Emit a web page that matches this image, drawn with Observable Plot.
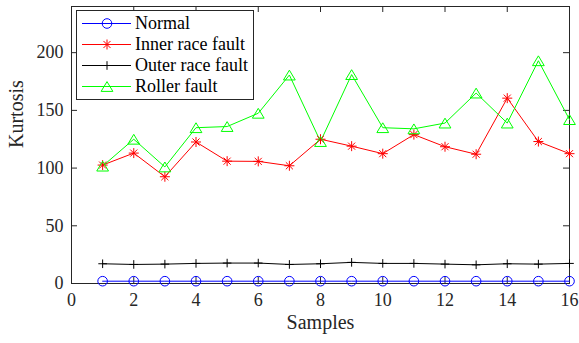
<!DOCTYPE html>
<html><head><meta charset="utf-8">
<script src="https://cdn.jsdelivr.net/npm/d3@7"></script>
<script src="https://cdn.jsdelivr.net/npm/@observablehq/plot@0.6"></script>
</head><body style="margin:0;background:#fff">
<div id="wrap" style="position:relative;width:579px;height:343px"><div id="chart"></div><div id="legend"></div></div>
<script>
const samples = [1,2,3,4,5,6,7,8,9,10,11,12,13,14,15,16];
const normal = [2,2,2,2,2,2,2,2,2,2,2,2,2,2,2,2];
const innerRace = [102.6,113,92.5,122.6,106,105.8,102,125,119,112.5,129,118.5,112,160.6,123,112.5];
const outerRace = [17.1,16.5,16.8,17.4,17.7,17.7,16.5,17.1,18.3,17.4,17.4,16.8,16.2,17.1,16.8,17.4];
const roller = [101.7,125,101,135,136,147.5,180.6,123,181,135,134,139,165,139,193,142];
const seriesNames = ["Normal","Inner race fault","Outer race fault","Roller fault"];
const seriesColors = ["#0000ff","#ff0000","#000000","#00ff00"];
const xTicks = [0,2,4,6,8,10,12,14,16];
const yTicks = [0,50,100,150,200];
const xLabel = "Samples";
const yLabel = "Kurtosis";

const seriesValues = [normal, innerRace, outerRace, roller];

const rad = s => Math.sqrt(s / Math.PI);
const symCircle = {draw(c, s){const r = rad(s); c.moveTo(r,0); c.arc(0,0,r,0,2*Math.PI);}};
const symAsterisk = {draw(c, s){const r = rad(s), d = r*Math.SQRT1_2;
  c.moveTo(-r,0); c.lineTo(r,0); c.moveTo(0,-r); c.lineTo(0,r);
  c.moveTo(-d,-d); c.lineTo(d,d); c.moveTo(-d,d); c.lineTo(d,-d);}};
const symPlus = {draw(c, s){const r = rad(s); c.moveTo(-r,0); c.lineTo(r,0); c.moveTo(0,-r); c.lineTo(0,r);}};
const symTriangle = {draw(c, s){const r = rad(s); c.moveTo(0,-r); c.lineTo(r*1.2,r); c.lineTo(-r*1.2,r); c.closePath();}};
const seriesSymbols = [symCircle, symAsterisk, symPlus, symTriangle];
const seriesR = [4.8, 5, 4.3, 4.9];

const fam = "Liberation Serif";
const axisColor = "#262626";

const rows = [];
seriesNames.forEach((name, i) => samples.forEach((x, j) => rows.push({series: name, idx: i, x, y: seriesValues[i][j]})));

const W = 579, H = 343, mL = 71, mR = 10, mT = 6, mB = 60;
const plotW = W - mL - mR, plotH = H - mT - mB;

const marks = [
  Plot.frame({stroke: axisColor, strokeWidth: 1}),
  Plot.tickX(xTicks, {x: d => d, insetTop: plotH - 6, stroke: axisColor}),
  Plot.tickX(xTicks, {x: d => d, insetBottom: plotH - 6, stroke: axisColor}),
  Plot.tickY(yTicks, {y: d => d, insetRight: plotW - 6, stroke: axisColor}),
  Plot.tickY(yTicks, {y: d => d, insetLeft: plotW - 6, stroke: axisColor}),
  Plot.axisX({ticks: xTicks, tickSize: 0, tickPadding: 10, label: null, fill: axisColor, fontSize: 18}),
  Plot.axisY({ticks: yTicks, tickSize: 0, tickPadding: 8, label: null, fill: axisColor, fontSize: 18}),
  Plot.text([xLabel], {frameAnchor: "bottom", dy: 45, fontSize: 20, fill: axisColor}),
  Plot.text([yLabel], {frameAnchor: "left", dx: -55, dy: 3, rotate: -90, fontSize: 20, fill: axisColor})
];
seriesNames.forEach((name, i) => {
  const d = rows.filter(r => r.idx === i);
  marks.push(Plot.line(d, {x: "x", y: "y", stroke: seriesColors[i], strokeWidth: 1}));
});
seriesNames.forEach((name, i) => {
  const d = rows.filter(r => r.idx === i);
  marks.push(Plot.dot(d, {x: "x", y: "y", symbol: seriesSymbols[i], r: seriesR[i], stroke: seriesColors[i], fill: "none", strokeWidth: 1}));
});
const plot = Plot.plot({
  width: W, height: H,
  marginLeft: mL, marginRight: mR, marginTop: mT, marginBottom: mB,
  style: {fontFamily: fam, fontSize: "18px"},
  x: {domain: [0, 16], label: null},
  y: {domain: [0, 240], label: null},
  marks
});
document.getElementById("chart").appendChild(plot);

// legend (HTML, placed over the axes like MATLAB's northwest legend)
const legend = d3.select("#legend")
  .style("position", "absolute").style("left", "76px").style("top", "10px")
  .style("width", "176px").style("height", "88px").style("border", "1px solid #262626")
  .style("background", "#fff").style("font-family", fam).style("font-size", "18px").style("color", "#000");
seriesNames.forEach((name, i) => {
  const row = legend.append("div").style("position", "absolute").style("left", "0px")
    .style("top", (1.5 + i * 21.3) + "px").style("height", "21px").style("line-height", "21px")
    .style("white-space", "nowrap").style("width", "176px");
  const sw = row.append("svg").attr("width", 52).attr("height", 21)
    .style("position", "absolute").style("left", "4px").style("top", "0px");
  sw.append("line").attr("x1", 1).attr("x2", 50).attr("y1", 10.5).attr("y2", 10.5)
    .attr("stroke", seriesColors[i]).attr("stroke-width", 1);
  sw.append("path").attr("d", d3.symbol(seriesSymbols[i], Math.PI * seriesR[i] * seriesR[i])())
    .attr("transform", "translate(26,10.5)").attr("fill", "none").attr("stroke", seriesColors[i]).attr("stroke-width", 1);
  row.append("span").style("position", "absolute").style("left", "58px").style("top", "0px")
    .style("font-family", fam).text(name);
});
</script></body></html>
